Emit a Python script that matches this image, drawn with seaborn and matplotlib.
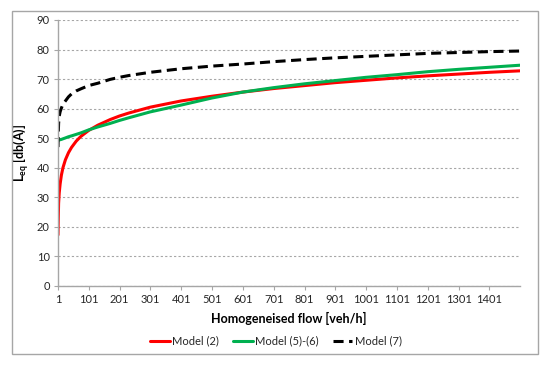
import matplotlib
matplotlib.use("Agg")
import matplotlib.pyplot as plt
import seaborn as sns
import pandas as pd
from matplotlib.patches import Rectangle

flow = [1, 2, 3, 5, 8, 12, 17, 25, 35, 45, 60, 75, 100, 130, 170, 200, 230,
        300, 400, 500, 600, 700, 800, 900, 1000, 1100, 1200, 1300, 1400, 1500]
model_2 = [17.3, 23.5, 28.0, 31.5, 34.6, 37.5, 40.0, 42.7, 45.1, 46.9, 49.0, 50.6,
           52.6, 54.4, 56.3, 57.5, 58.5, 60.5, 62.6, 64.2, 65.6, 66.8, 67.8, 68.8,
           69.6, 70.4, 71.1, 71.7, 72.3, 72.8]
model_5_6 = [49.3, 49.3, 49.4, 49.4, 49.5, 49.6, 49.8, 50.1, 50.5, 50.8, 51.3, 51.8,
             52.8, 53.8, 55.0, 56.0, 56.9, 58.9, 61.2, 63.6, 65.6, 67.1, 68.4, 69.5,
             70.6, 71.5, 72.5, 73.3, 74.0, 74.7]
model_7 = [47.0, 52.0, 55.0, 57.5, 59.0, 60.2, 61.5, 62.6, 64.0, 65.0, 66.0, 66.7,
           67.8, 68.6, 69.9, 70.6, 71.2, 72.3, 73.5, 74.4, 75.1, 75.9, 76.6, 77.2,
           77.7, 78.2, 78.7, 79.0, 79.3, 79.5]
series_names = ["Model (2)", "Model (5)-(6)", "Model (7)"]
x_ticks = list(range(1, 1402, 100))
y_ticks = list(range(0, 91, 10))

df = pd.concat([
    pd.DataFrame({"flow": flow, "Leq": vals, "model": name})
    for name, vals in zip(series_names, [model_2, model_5_6, model_7])
])

sns.set_theme(style="white")
plt.rcParams['font.family'] = ['Lato', 'DejaVu Sans']
plt.rcParams['mathtext.fontset'] = 'custom'
plt.rcParams['mathtext.rm'] = 'Lato'
plt.rcParams['mathtext.bf'] = 'Lato:bold'

fig = plt.figure(figsize=(5.5, 3.65), dpi=100)
ax = fig.add_axes([58/550, 1-286/365, (520-58)/550, (286-20)/365])

palette = {"Model (2)": "#FF0000", "Model (5)-(6)": "#00B050", "Model (7)": "#000000"}
dashes = {"Model (2)": "", "Model (5)-(6)": "", "Model (7)": (3.3, 1.8)}
sns.lineplot(data=df, x="flow", y="Leq", hue="model", style="model",
             palette=palette, dashes=dashes, linewidth=2.2, ax=ax, legend=True)

ax.set_xlim(1, 1500)
ax.set_ylim(0, 90)
ax.set_xticks(x_ticks)
ax.set_xticklabels([str(t) for t in x_ticks])
ax.set_yticks(y_ticks)
ax.yaxis.grid(True, linestyle=(0, (2, 2)), color="#A6A6A6", linewidth=0.8)
ax.xaxis.grid(False)
for s in ["top", "right"]:
    ax.spines[s].set_visible(False)
for s in ["left", "bottom"]:
    ax.spines[s].set_color("#A6A6A6")
    ax.spines[s].set_linewidth(1.0)
ax.tick_params(axis="both", which="both", direction="out", length=3, width=0.8,
               color="#A6A6A6", labelsize=8, labelcolor="#262626", pad=3,
               left=True, bottom=True)

ax.set_xlabel("Homogeneised flow [veh/h]", fontsize=9, fontweight="bold",
              color="#000000", labelpad=5)
ax.set_ylabel(r"$\mathbf{L}_{\mathbf{eq}}$ [db(A)]", fontsize=9, fontweight="bold",
              color="#000000", labelpad=4)

handles, labels = ax.get_legend_handles_labels()
ax.legend(handles, labels, loc="center", bbox_to_anchor=(276/550, 1-341/365),
          bbox_transform=fig.transFigure, ncol=3, frameon=False, fontsize=8,
          handlelength=1.75, handletextpad=0.2, columnspacing=1.3)

fig.patches.append(Rectangle((12/550, 1-354/365), (538-12)/550, (354-11)/365,
                             transform=fig.transFigure, fill=False,
                             edgecolor="#A6A6A6", linewidth=1.0))

fig.savefig("out.png", dpi=100)
